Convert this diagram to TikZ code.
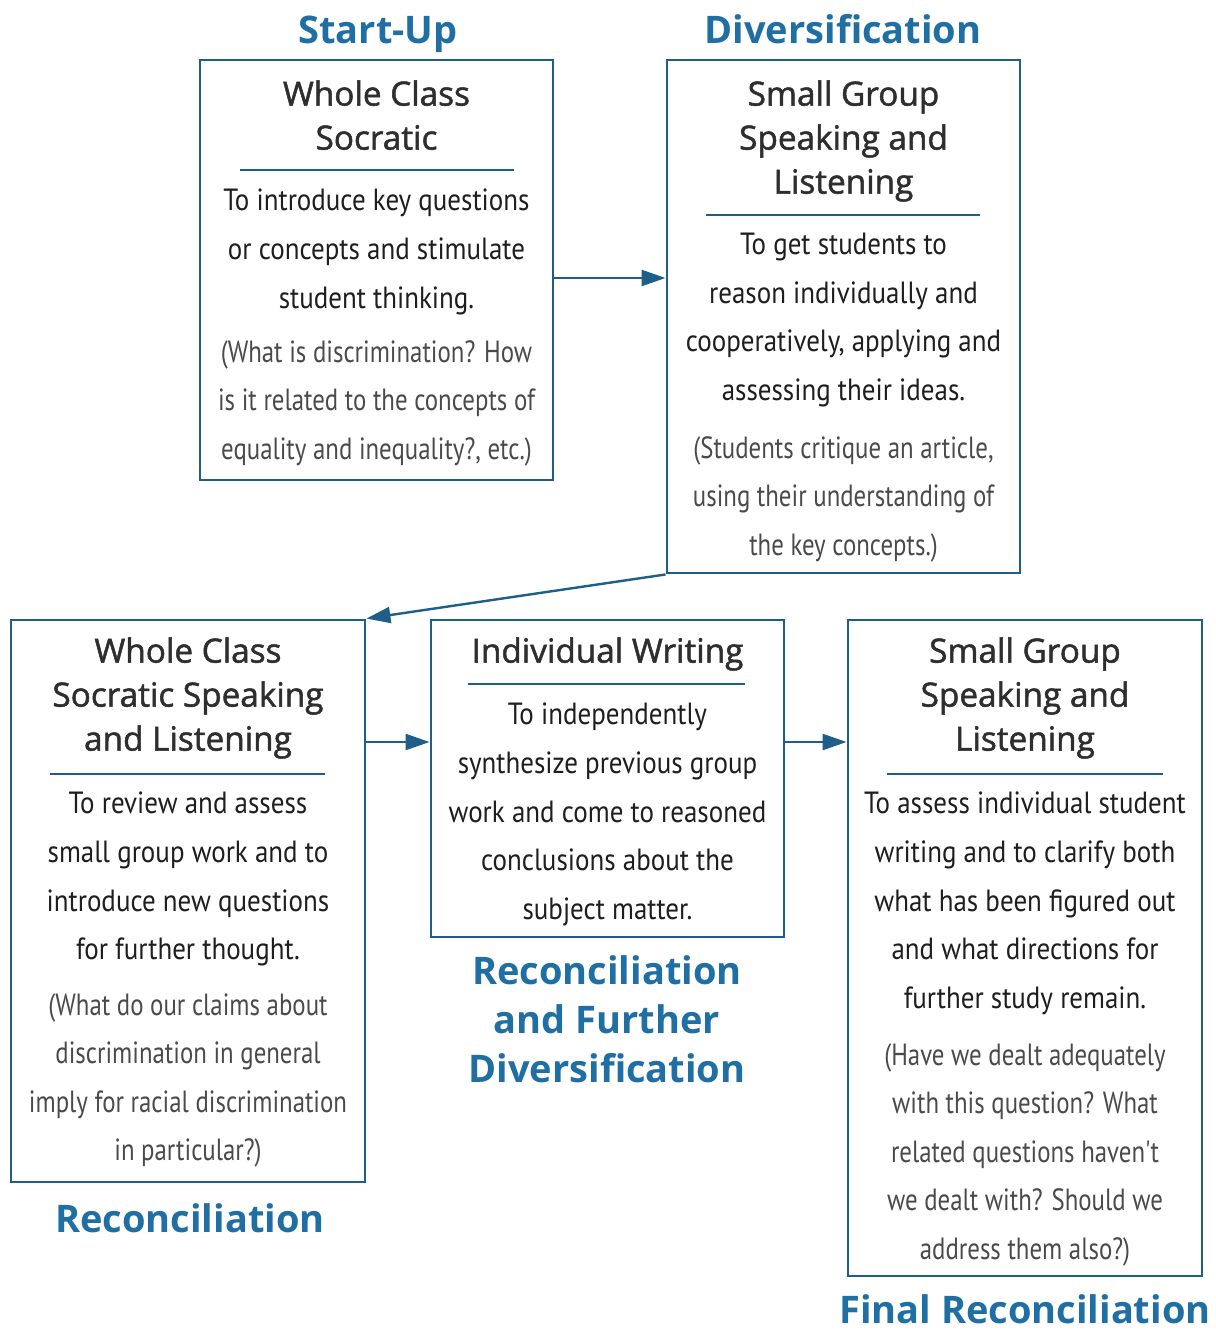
\documentclass[tikz,border=0pt]{standalone}
\usepackage{fontspec}
\setmainfont{Open Sans}
\newfontfamily\titlefont[FakeBold=1.5]{Open Sans}
\newfontfamily\labfont{Open Sans}
\newfontfamily\condfont[FakeStretch=0.88]{PT Sans}
\newfontfamily\parenfont[FakeStretch=0.81]{PT Sans}
\usetikzlibrary{arrows.meta}
\definecolor{boxblue}{HTML}{1D5F88}
\definecolor{labblue}{HTML}{1F6FA5}
\definecolor{titlegray}{HTML}{2E2E2E}
\definecolor{bodyblack}{HTML}{1E1E1E}
\definecolor{parengray}{HTML}{4A4A4A}
\begin{document}
\begin{tikzpicture}[x=0.75pt,y=-0.75pt,
 box/.style={draw=boxblue, line width=2.2pt, inner sep=0pt},
 sepline/.style={draw=boxblue, line width=2pt},
 arr/.style={draw=boxblue, line width=1.8pt, -{Triangle[length=18pt,width=12pt]}},
 title/.style={anchor=north, inner sep=0pt, align=center, text=titlegray, font=\titlefont\fontsize{25}{33}\selectfont},
 body/.style={anchor=north, inner sep=0pt, align=center, text=bodyblack, font=\condfont\fontsize{23}{36.4}\selectfont},
 paren/.style={anchor=north, inner sep=0pt, align=center, text=parengray, font=\parenfont\fontsize{23}{36.4}\selectfont},
 lab/.style={anchor=base, inner sep=0pt, align=center, text=labblue, font=\labfont\bfseries\fontsize{28.5}{36.75}\selectfont}]
\useasboundingbox (0,0) rectangle (1215,1330);

% boxes
\node[box, minimum width=264.75pt, minimum height=315pt] (A) at (376.5,270) {};
\node[box, minimum width=264.75pt, minimum height=384.75pt] (B) at (843.5,316.5) {};
\node[box, minimum width=265.5pt, minimum height=421.5pt] (C) at (188,901) {};
\node[box, minimum width=264.75pt, minimum height=237.75pt] (D) at (607.5,778.5) {};
\node[box, minimum width=265.5pt, minimum height=492pt] (E) at (1025,948) {};

% separators
\draw[sepline] (240,170) -- (514,170);
\draw[sepline] (706,215) -- (980,215);
\draw[sepline] (50,774) -- (325,774);
\draw[sepline] (468,684) -- (745,684);
\draw[sepline] (887,774) -- (1163,774);

% box A
\node[title] (At) at (376.5,80) {Whole Class\\Socratic};
\node[body] (Ab) at (376.5,189) {To introduce key questions\\or concepts and stimulate\\student thinking.};
\node[paren] (Ap) at (376.5,340) {(What is discrimination? How\\is it related to the concepts of\\equality and inequality?, etc.)};

% box B
\node[title] (Bt) at (843.5,80) {Small Group\\Speaking and\\Listening};
\node[body] (Bb) at (843.5,233) {To get students to\\reason individually and\\cooperatively, applying and\\assessing their ideas.};
\node[paren] (Bp) at (843.5,436) {(Students critique an article,\\using their understanding of\\the key concepts.)};

% box C
\node[title] (Ct) at (188,637) {Whole Class\\Socratic Speaking\\and Listening};
\node[body] (Cb) at (188,792) {To review and assess\\small group work and to\\introduce new questions\\for further thought.};
\node[paren] (Cp) at (188,993) {(What do our claims about\\discrimination in general\\imply for racial discrimination\\in particular?)};

% box D
\node[title] (Dt) at (607.5,637) {Individual Writing};
\node[body] (Db) at (607.5,703) {To independently\\synthesize previous group\\work and come to reasoned\\conclusions about the\\subject matter.};

% box E
\node[title] (Et) at (1025,637) {Small Group\\Speaking and\\Listening};
\node[body] (Eb) at (1025,792) {To assess individual student\\writing and to clarify both\\what has been figured out\\and what directions for\\further study remain.};
\node[paren] (Ep) at (1025,1043) {(Have we dealt adequately\\with this question? What\\related questions haven't\\we dealt with? Should we\\address them also?)};

% labels
\node[lab] (L1) at (378,44) {Start-Up};
\node[lab] (L2) at (843,44) {Diversification};
\node[lab] (L3) at (190,1232) {Reconciliation};
\node[lab, anchor=north] (L4) at (607,955) {Reconciliation\\and Further\\Diversification};
\node[lab] (L5) at (1025,1323) {Final Reconciliation};

% arrows
\coordinate (r1) at (0,278);
\coordinate (r2) at (0,742);
\draw[arr] (A.east |- r1) -- (B.west |- r1);
\draw[arr] (B.south west) -- (C.north east);
\draw[arr] (C.east |- r2) -- (D.west |- r2);
\draw[arr] (D.east |- r2) -- (E.west |- r2);
\end{tikzpicture}
\end{document}
